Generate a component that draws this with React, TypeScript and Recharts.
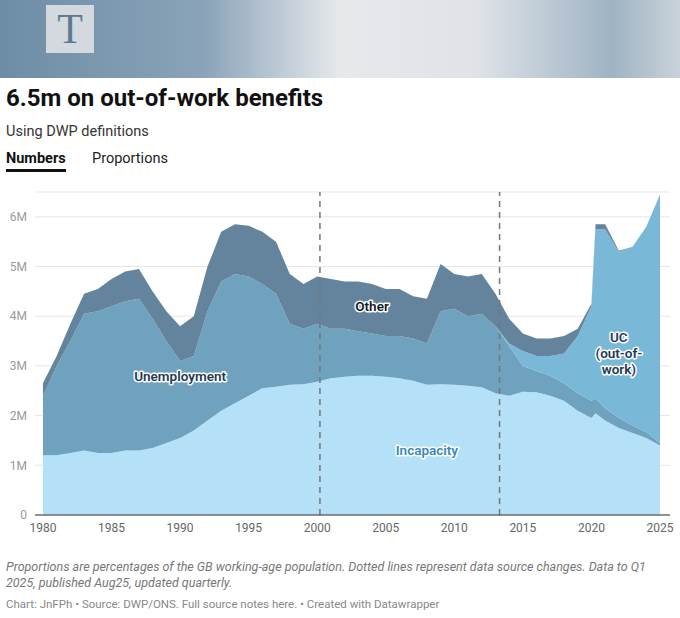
import React from "react";
import { AreaChart, Area, XAxis, YAxis, CartesianGrid, ReferenceLine, ReferenceDot } from "recharts";

const years = [1980, 1981, 1982, 1983, 1984, 1985, 1986, 1987, 1988, 1989, 1990, 1991, 1992, 1993, 1994, 1995, 1996, 1997, 1998, 1999, 2000, 2001, 2002, 2003, 2004, 2005, 2006, 2007, 2008, 2009, 2010, 2011, 2012, 2013, 2014, 2015, 2016, 2017, 2018, 2019, 2020, 2020.3, 2021, 2022, 2023, 2024, 2025];
const incapacity = [1.2, 1.2, 1.25, 1.3, 1.25, 1.25, 1.3, 1.3, 1.35, 1.45, 1.55, 1.7, 1.9, 2.1, 2.25, 2.4, 2.55, 2.58, 2.62, 2.63, 2.68, 2.75, 2.78, 2.8, 2.8, 2.78, 2.75, 2.7, 2.62, 2.63, 2.62, 2.6, 2.57, 2.45, 2.4, 2.48, 2.47, 2.4, 2.3, 2.1, 1.95, 2.05, 1.9, 1.75, 1.65, 1.55, 1.4];
const unemployment = [1.2, 1.8, 2.25, 2.75, 2.85, 2.95, 3.0, 3.05, 2.6, 2.05, 1.55, 1.5, 2.2, 2.6, 2.6, 2.4, 2.1, 1.87, 1.23, 1.12, 1.17, 1.0, 0.97, 0.9, 0.85, 0.82, 0.85, 0.85, 0.83, 1.47, 1.53, 1.4, 1.48, 1.35, 1.0, 0.52, 0.43, 0.4, 0.35, 0.35, 0.35, 0.3, 0.25, 0.2, 0.15, 0.12, 0.05];
const uc = [0, 0, 0, 0, 0, 0, 0, 0, 0, 0, 0, 0, 0, 0, 0, 0, 0, 0, 0, 0, 0, 0, 0, 0, 0, 0, 0, 0, 0, 0, 0, 0, 0, 0, 0.05, 0.3, 0.3, 0.4, 0.6, 1.15, 1.9, 3.4, 3.6, 3.35, 3.6, 4.13, 5.0];
const other = [0.25, 0.2, 0.35, 0.4, 0.45, 0.55, 0.6, 0.6, 0.55, 0.6, 0.7, 0.8, 0.9, 1.0, 1.0, 1.02, 1.05, 1.05, 1.0, 0.9, 0.95, 1.0, 0.95, 1.0, 1.0, 0.95, 0.95, 0.85, 0.9, 0.95, 0.7, 0.8, 0.8, 0.65, 0.5, 0.35, 0.35, 0.35, 0.35, 0.15, 0.05, 0.1, 0.1, 0.02, 0, 0, 0];
const xTicks = [1980, 1985, 1990, 1995, 2000, 2005, 2010, 2015, 2020, 2025];
const yTicks = [0, 1, 2, 3, 4, 5, 6];

const data = years.map((y, i) => ({
  year: y,
  incapacity: incapacity[i],
  unemployment: unemployment[i],
  uc: uc[i],
  other: other[i],
}));

const font = "Roboto, 'Noto Sans', sans-serif";

function Label({ viewBox, lines, color }: any) {
  const { x, y } = viewBox || {};
  return (
    <text x={x} y={y} textAnchor="middle" fontFamily={font} fontSize={13.5} fontWeight={600}
      fill={color} stroke="#fff" strokeWidth={3} paintOrder="stroke" strokeLinejoin="round">
      {lines.map((l: string, i: number) => (
        <tspan key={i} x={x} dy={i === 0 ? 4 - (lines.length - 1) * 8 : 16}>{l}</tspan>
      ))}
    </text>
  );
}

export default function App() {
  return (
    <div style={{ position: "absolute", left: 0, top: 0, width: 680, height: 618, background: "#fff", fontFamily: font, overflow: "hidden" }}>
      <div style={{ position: "absolute", left: 0, top: 0, width: 680, height: 78,
        background: "linear-gradient(90deg, #6d8da6 0%, #8aa3b8 30%, #e6e9ec 50%, #dfe3e7 70%, #9fb3c4 90%, #c9d2da 100%)" }} />
      <div style={{ position: "absolute", left: 46, top: 5, width: 48, height: 48, background: "#d3d9de", color: "#5e7a90",
        fontFamily: "'Liberation Serif', serif", fontSize: 42, textAlign: "center", lineHeight: "48px" }}>T</div>
      <div style={{ position: "absolute", left: 6, top: 84, fontSize: 24, fontWeight: 700, color: "#111" }}>6.5m on out-of-work benefits</div>
      <div style={{ position: "absolute", left: 6, top: 123, fontSize: 14.5, color: "#333" }}>Using DWP definitions</div>
      <div style={{ position: "absolute", left: 6, top: 150, fontSize: 14.5, fontWeight: 700, color: "#111", borderBottom: "3px solid #111", paddingBottom: 2 }}>Numbers</div>
      <div style={{ position: "absolute", left: 92, top: 150, fontSize: 14.5, color: "#222" }}>Proportions</div>

      <div style={{ position: "absolute", left: 0, top: 185 }}>
        <AreaChart width={680} height={355} data={data} margin={{ top: 7, right: 10, left: 0, bottom: 0 }}>
          <CartesianGrid vertical={false} stroke="#e6e6e6" />
          <XAxis dataKey="year" type="number" domain={[1979.42, 2025.73]} ticks={xTicks} tickLine={false}
            axisLine={{ stroke: "#333" }} height={25} tick={{ fontSize: 12, fill: "#666", fontFamily: font }} />
          <YAxis domain={[0, 6.5]} ticks={yTicks} width={35} axisLine={false} tickLine={false}
            tickFormatter={(v) => (v === 0 ? "0" : `${v}M`)} tick={{ fontSize: 12, fill: "#999", fontFamily: font }} />
          <Area type="linear" dataKey="incapacity" stackId="a" stroke="none" fill="#b4e1f8" fillOpacity={1} isAnimationActive={false} />
          <Area type="linear" dataKey="unemployment" stackId="a" stroke="none" fill="#6ea2bf" fillOpacity={1} isAnimationActive={false} />
          <Area type="linear" dataKey="uc" stackId="a" stroke="none" fill="#7ab8d8" fillOpacity={1} isAnimationActive={false} />
          <Area type="linear" dataKey="other" stackId="a" stroke="none" fill="#64839c" fillOpacity={1} isAnimationActive={false} />
          <ReferenceLine x={2000.2} stroke="#777" strokeDasharray="6 5" strokeWidth={1.5} />
          <ReferenceLine x={2013.3} stroke="#777" strokeDasharray="6 5" strokeWidth={1.5} />
          <ReferenceDot x={1990} y={2.78} r={0} label={<Label lines={["Unemployment"]} color="#1e3a52" />} />
          <ReferenceDot x={2004} y={4.18} r={0} label={<Label lines={["Other"]} color="#111a26" />} />
          <ReferenceDot x={2008} y={1.28} r={0} label={<Label lines={["Incapacity"]} color="#3a8ab5" />} />
          <ReferenceDot x={2022} y={3.25} r={0} label={<Label lines={["UC", "(out-of-", "work)"]} color="#1e3a52" />} />
        </AreaChart>
      </div>

      <div style={{ position: "absolute", left: 6, top: 559, width: 668, fontSize: 12.5, fontStyle: "italic", color: "#777", lineHeight: "16px" }}>
        Proportions are percentages of the GB working-age population. Dotted lines represent data source changes. Data to Q1 2025, published Aug25, updated quarterly.
      </div>
      <div style={{ position: "absolute", left: 6, top: 597, fontSize: 11.5, color: "#888" }}>
        Chart: JnFPh • Source: DWP/ONS. Full source notes here. • Created with Datawrapper
      </div>
    </div>
  );
}
